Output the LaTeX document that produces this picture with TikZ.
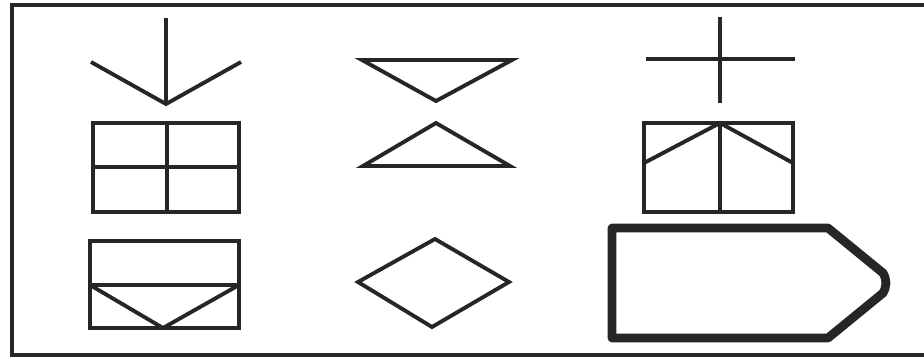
\documentclass[tikz,border=0pt]{standalone}
\begin{document}
\begin{tikzpicture}[x=0.02cm,y=-0.02cm,
  sym/.style={draw=black!85,line width=2.2pt,line join=miter},
  heavy/.style={draw=black!85,line width=5pt,line join=round},
  frame/.style={draw=black!85,line width=1.8pt}]
\fill[white] (0,0) rectangle (924,359);
\useasboundingbox (0,0) rectangle (924,359);
% frame (open on the right)
\draw[frame] (924,5) -- (12,5) -- (12,355) -- (924,355);
% arrow
\draw[sym] (166,18) -- (166,104);
\draw[sym] (91,62) -- (166,104) -- (241,62);
% grid box
\draw[sym] (93,123) rectangle (239,212);
\draw[sym] (93,167) -- (239,167);
\draw[sym] (167,123) -- (167,212);
% box with V
\draw[sym] (90,241) rectangle (239,328);
\draw[sym] (90,285) -- (239,285);
\draw[sym] (90,285) -- (163,328) -- (239,285);
% triangles
\draw[sym] (362,60) -- (512,60) -- (436,101) -- cycle;
\draw[sym] (436,123) -- (510,166) -- (363,166) -- cycle;
% diamond
\draw[sym] (358,282) -- (435,239) -- (509,282) -- (432,327) -- cycle;
% cross
\draw[sym] (720,17) -- (720,103);
\draw[sym] (646,59) -- (795,59);
% box with roof
\draw[sym] (644,123) rectangle (793,212);
\draw[sym] (720,123) -- (720,212);
\draw[sym] (644,163) -- (720,123) -- (793,163);
% pentagon
\draw[heavy] (612,228) -- (828,228) -- (883,273) to[out=-60,in=60] (883,293) -- (828,338) -- (612,338) -- cycle;
\end{tikzpicture}
\end{document}
